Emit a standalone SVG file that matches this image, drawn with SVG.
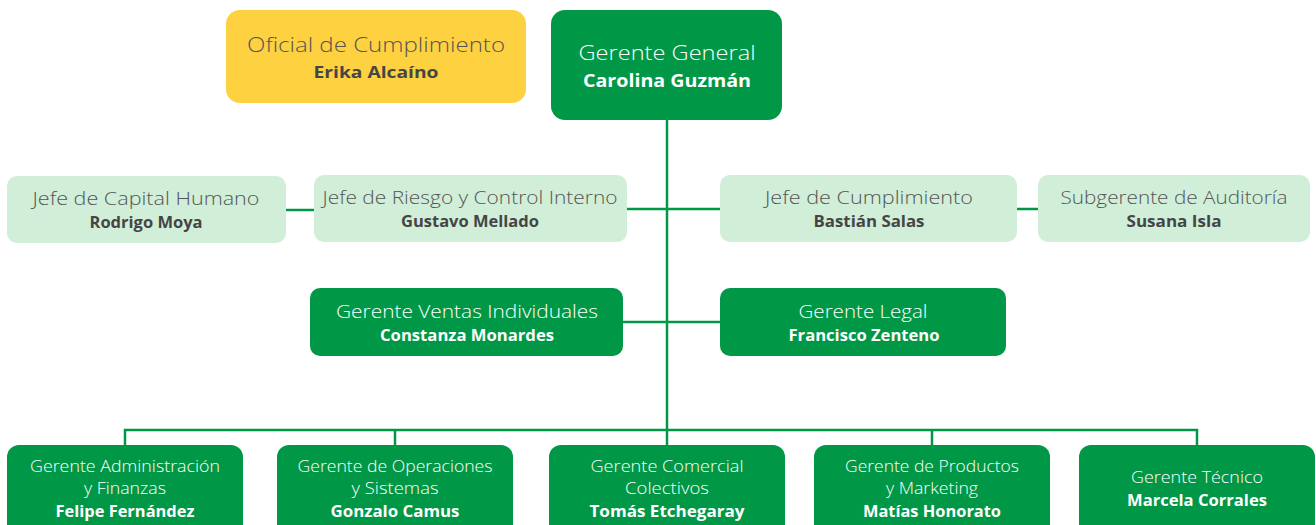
<svg xmlns="http://www.w3.org/2000/svg" width="1316" height="525" viewBox="0 0 1316 525">
<style>
.g{fill:#009846}
.l{fill:#D0EED8}
.y{fill:#FED141}
text{font-family:"Open Sans","Noto Sans",sans-serif;text-anchor:middle}
.t{font-weight:350}
.n{font-weight:700}
.w{fill:#ffffff}
.d{fill:#555555}
.dn{fill:#454545}
.c{stroke:#009846;stroke-width:2.5;fill:none}
</style>
<g id="connectors">
<path class="c" d="M667 120V430"/>
<path class="c" d="M286 210H314M627 209H720M1017 209H1038"/>
<path class="c" d="M623 322H720"/>
<path class="c" d="M125 445V430H1197V445M395 430V445M932 430V445M667 430V445"/>
</g>
<g id="oficial">
<rect class="y" x="226" y="10" width="300" height="93" rx="14"/>
<text class="t d" x="376" y="52" font-size="20.5" textLength="258" lengthAdjust="spacingAndGlyphs">Oficial de Cumplimiento</text>
<text class="n dn" x="376" y="78" font-size="16.5" textLength="125" lengthAdjust="spacingAndGlyphs">Erika Alcaíno</text>
</g>
<g id="gerente-general">
<rect class="g" x="551" y="10" width="231" height="110" rx="14"/>
<text class="t w" x="667" y="60" font-size="20.5" textLength="177" lengthAdjust="spacingAndGlyphs">Gerente General</text>
<text class="n w" x="667" y="87" font-size="17.5" textLength="168" lengthAdjust="spacingAndGlyphs">Carolina Guzmán</text>
</g>
<g id="capital-humano">
<rect class="l" x="7" y="176" width="279" height="67" rx="10"/>
<text class="t d" x="146" y="205" font-size="18.5" textLength="227" lengthAdjust="spacingAndGlyphs">Jefe de Capital Humano</text>
<text class="n dn" x="146" y="227.5" font-size="15.5" textLength="113" lengthAdjust="spacingAndGlyphs">Rodrigo Moya</text>
</g>
<g id="riesgo">
<rect class="l" x="314" y="175" width="313" height="67" rx="10"/>
<text class="t d" x="470" y="204" font-size="18.5" textLength="295" lengthAdjust="spacingAndGlyphs">Jefe de Riesgo y Control Interno</text>
<text class="n dn" x="470" y="226.5" font-size="15.5" textLength="138" lengthAdjust="spacingAndGlyphs">Gustavo Mellado</text>
</g>
<g id="cumplimiento">
<rect class="l" x="720" y="175" width="297" height="67" rx="10"/>
<text class="t d" x="869" y="204" font-size="18.5" textLength="208" lengthAdjust="spacingAndGlyphs">Jefe de Cumplimiento</text>
<text class="n dn" x="869" y="226.5" font-size="15.5" textLength="111" lengthAdjust="spacingAndGlyphs">Bastián Salas</text>
</g>
<g id="auditoria">
<rect class="l" x="1038" y="175" width="272" height="67" rx="10"/>
<text class="t d" x="1174" y="204" font-size="18.5" textLength="227" lengthAdjust="spacingAndGlyphs">Subgerente de Auditoría</text>
<text class="n dn" x="1174" y="226.5" font-size="15.5" textLength="95" lengthAdjust="spacingAndGlyphs">Susana Isla</text>
</g>
<g id="ventas">
<rect class="g" x="310" y="288" width="313" height="68" rx="10"/>
<text class="t w" x="467" y="318" font-size="18.5" textLength="262" lengthAdjust="spacingAndGlyphs">Gerente Ventas Individuales</text>
<text class="n w" x="467" y="340.5" font-size="15.5" textLength="174" lengthAdjust="spacingAndGlyphs">Constanza Monardes</text>
</g>
<g id="legal">
<rect class="g" x="720" y="288" width="286" height="68" rx="10"/>
<text class="t w" x="863" y="318" font-size="18.5" textLength="129" lengthAdjust="spacingAndGlyphs">Gerente Legal</text>
<text class="n w" x="864" y="340.5" font-size="15.5" textLength="151" lengthAdjust="spacingAndGlyphs">Francisco Zenteno</text>
</g>
<g id="administracion">
<rect class="g" x="7" y="445" width="236" height="95" rx="12"/>
<text class="t w" x="125" y="472" font-size="15.5" textLength="190" lengthAdjust="spacingAndGlyphs">Gerente Administración</text>
<text class="t w" x="125" y="494" font-size="15.5" textLength="82" lengthAdjust="spacingAndGlyphs">y Finanzas</text>
<text class="n w" x="125" y="516.5" font-size="15.5" textLength="139" lengthAdjust="spacingAndGlyphs">Felipe Fernández</text>
</g>
<g id="operaciones">
<rect class="g" x="277" y="445" width="236" height="95" rx="12"/>
<text class="t w" x="395" y="472" font-size="15.5" textLength="195" lengthAdjust="spacingAndGlyphs">Gerente de Operaciones</text>
<text class="t w" x="395" y="494" font-size="15.5" textLength="87" lengthAdjust="spacingAndGlyphs">y Sistemas</text>
<text class="n w" x="395" y="516.5" font-size="15.5" textLength="129" lengthAdjust="spacingAndGlyphs">Gonzalo Camus</text>
</g>
<g id="comercial">
<rect class="g" x="549" y="445" width="236" height="95" rx="12"/>
<text class="t w" x="667" y="472" font-size="15.5" textLength="153" lengthAdjust="spacingAndGlyphs">Gerente Comercial</text>
<text class="t w" x="667" y="494" font-size="15.5" textLength="84" lengthAdjust="spacingAndGlyphs">Colectivos</text>
<text class="n w" x="667" y="516.5" font-size="15.5" textLength="155" lengthAdjust="spacingAndGlyphs">Tomás Etchegaray</text>
</g>
<g id="productos">
<rect class="g" x="814" y="445" width="236" height="95" rx="12"/>
<text class="t w" x="932" y="472" font-size="15.5" textLength="174" lengthAdjust="spacingAndGlyphs">Gerente de Productos</text>
<text class="t w" x="932" y="494" font-size="15.5" textLength="92" lengthAdjust="spacingAndGlyphs">y Marketing</text>
<text class="n w" x="932" y="516.5" font-size="15.5" textLength="138" lengthAdjust="spacingAndGlyphs">Matías Honorato</text>
</g>
<g id="tecnico">
<rect class="g" x="1079" y="445" width="236" height="95" rx="12"/>
<text class="t w" x="1197" y="483" font-size="15.5" textLength="132" lengthAdjust="spacingAndGlyphs">Gerente Técnico</text>
<text class="n w" x="1197" y="505.5" font-size="15.5" textLength="140" lengthAdjust="spacingAndGlyphs">Marcela Corrales</text>
</g>
</svg>
